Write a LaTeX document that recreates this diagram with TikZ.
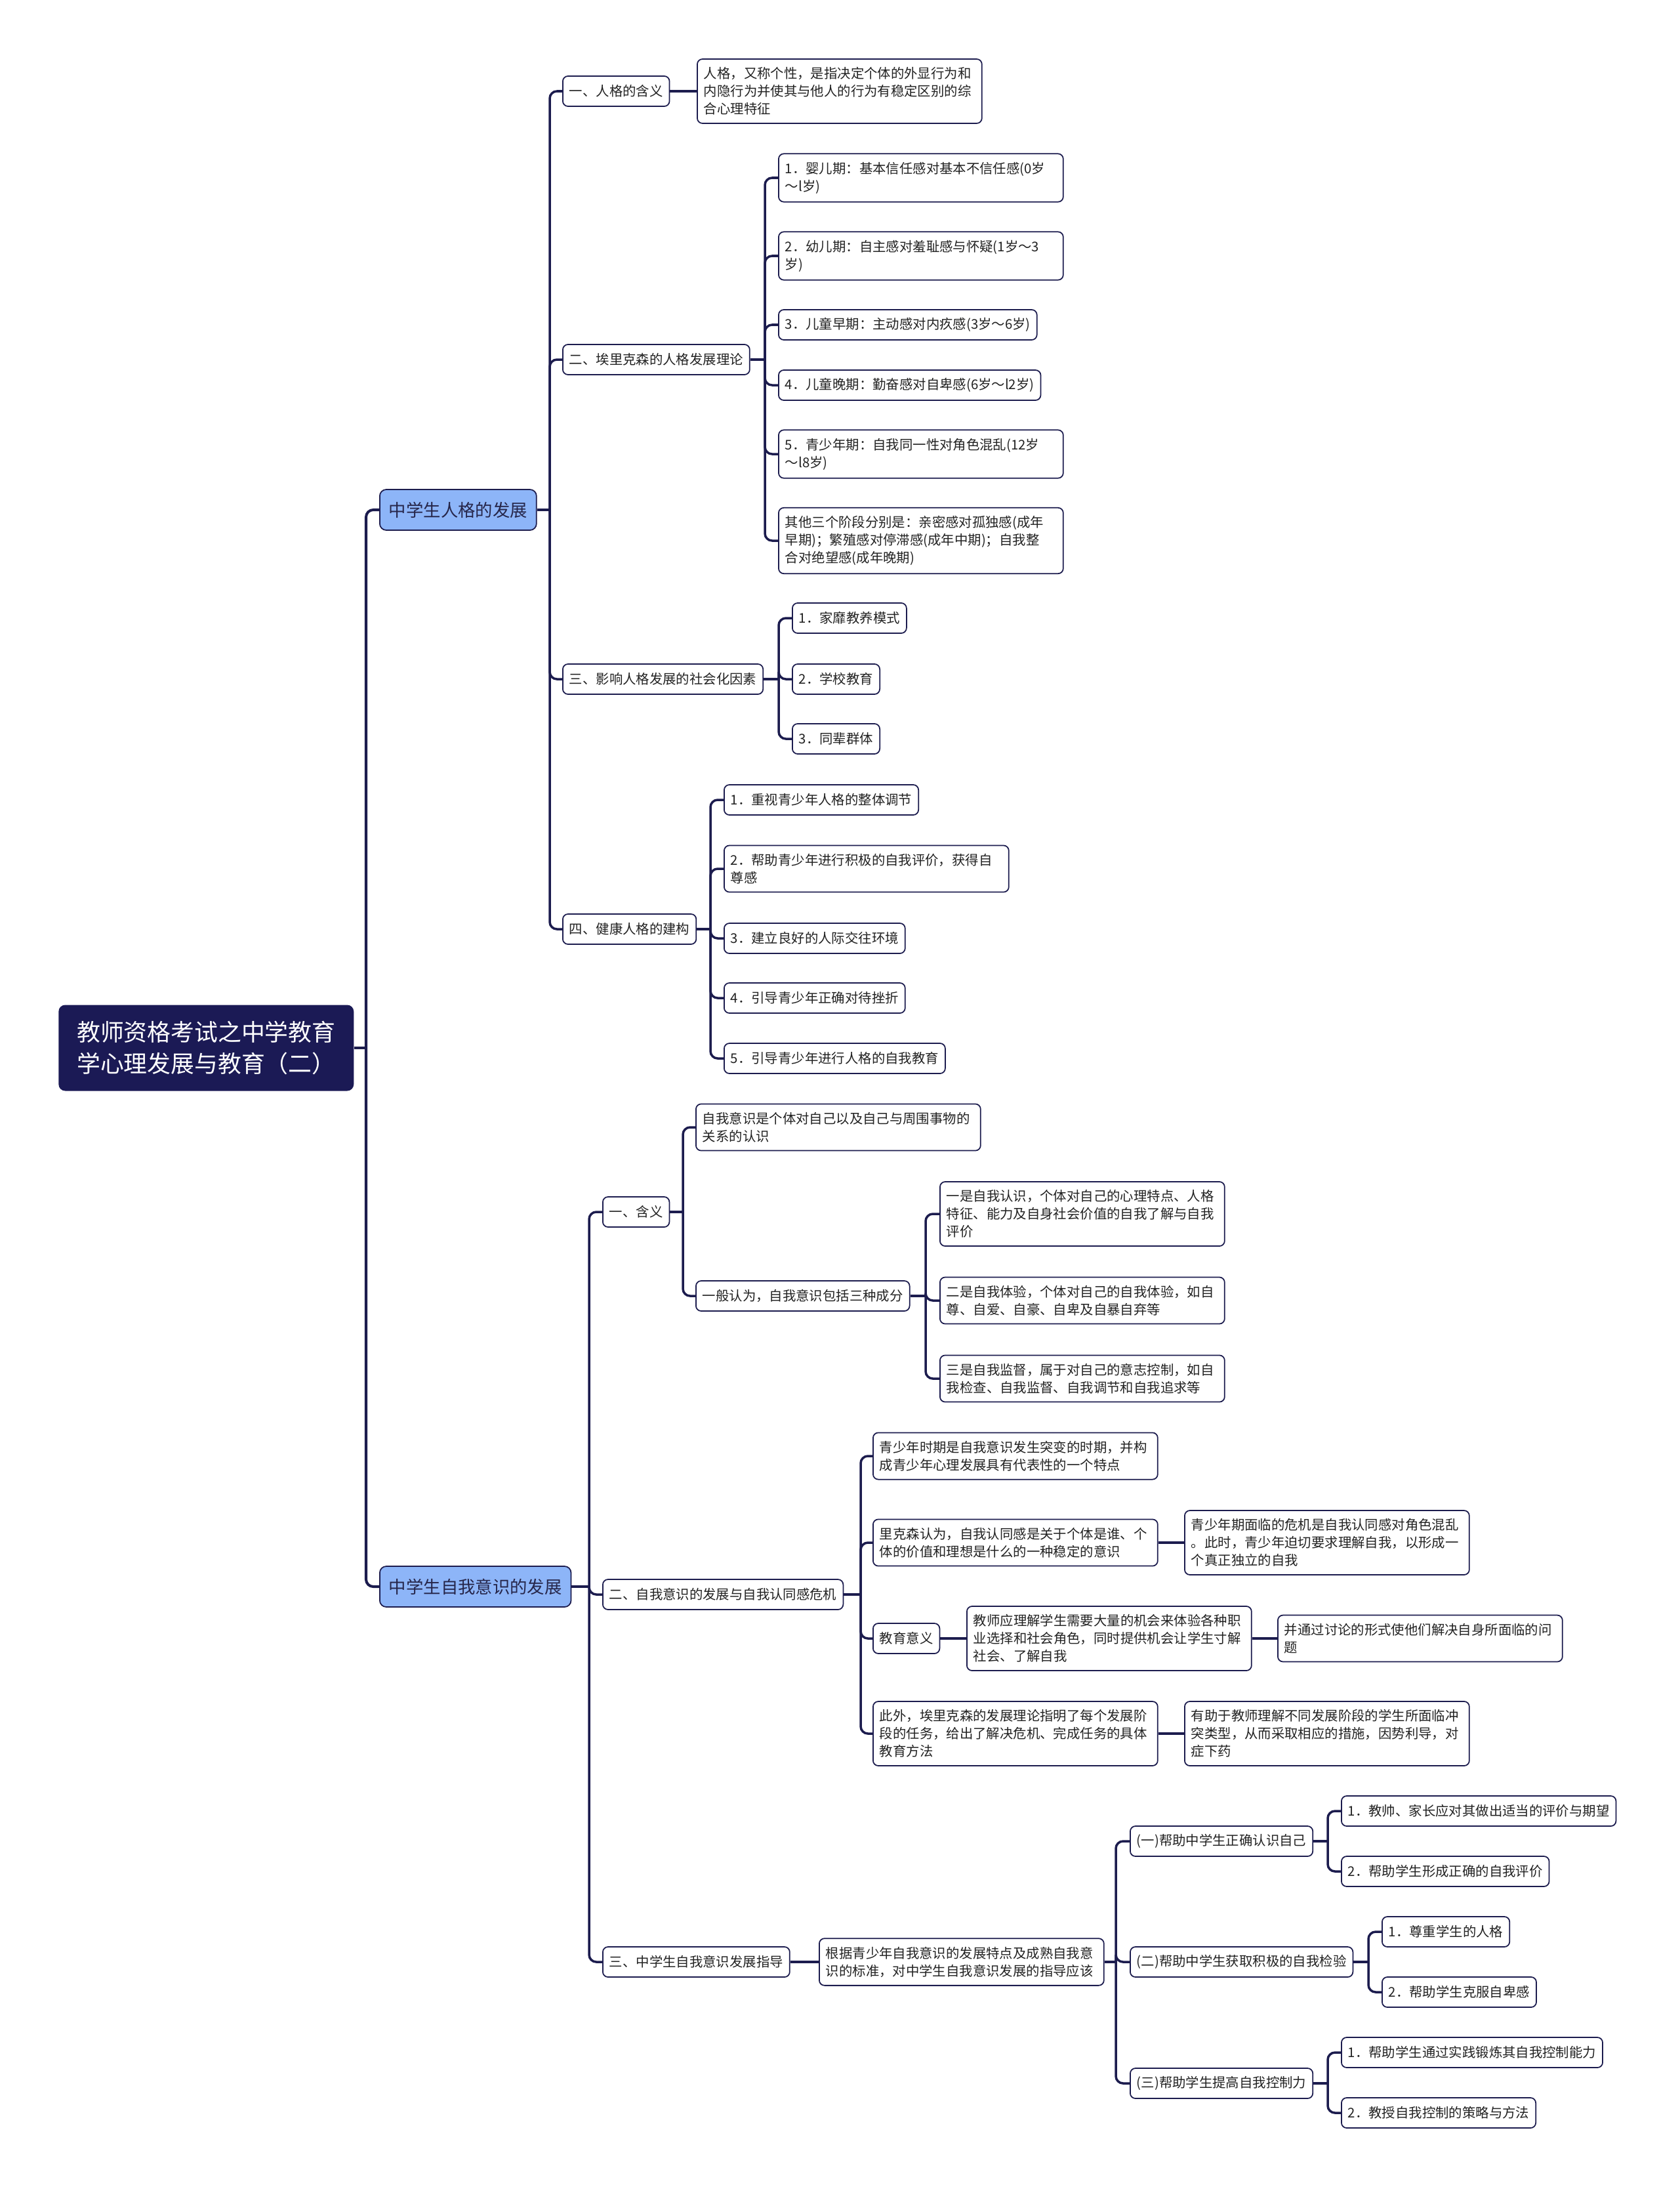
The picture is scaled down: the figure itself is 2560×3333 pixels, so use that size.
\documentclass[tikz,border=0pt]{standalone}
\usepackage{fontspec}
\setmainfont{Noto Sans CJK SC}
\usetikzlibrary{positioning}
\definecolor{NavyLine}{HTML}{1C1C4E}
\definecolor{RootNavy}{HTML}{1B1A55}
\definecolor{TopicBlue}{HTML}{8DB5F8}
\definecolor{TopicText}{HTML}{26264A}
\definecolor{LeafText}{HTML}{222222}
\newcommand\leaffont{\fontsize{11.6pt}{15.3pt}\selectfont}
\newcommand\topicfont{\fontsize{15pt}{18pt}\selectfont}
\newcommand\rootfont{\fontsize{20.4pt}{27.2pt}\selectfont}

\tikzset{
  link/.style={draw=NavyLine, line width=2pt, rounded corners=0.22cm},
  mainlink/.style={link, line width=2.3pt},
  leaf/.style={draw=NavyLine, line width=1pt, fill=white, text=LeafText,
    rounded corners=0.16cm, anchor=west, font=\leaffont,
    inner xsep=5.7pt, inner ysep=0pt, minimum height=0.92cm},
  wrapbox/.style={leaf, text width=8.28cm, align=left, inner ysep=7.2pt},
  topic/.style={draw=NavyLine, line width=1pt, fill=TopicBlue, text=TopicText,
    rounded corners=0.2cm, anchor=west, font=\topicfont,
    inner xsep=8pt, minimum height=1.24cm},
  rootbox/.style={fill=RootNavy, text=white, rounded corners=0.2cm,
    anchor=west, font=\rootfont, align=left,
    minimum width=9cm, minimum height=2.62cm}
}

\begin{document}
\begin{tikzpicture}[x=0.02cm, y=-0.02cm]
  \useasboundingbox (0,0) rectangle (2560,3333);

  % root and main topics
  \node[rootbox] (root) at (89,1597) {教师资格考试之中学教育\\学心理发展与教育（二）};
  \node[topic] (pers) at (578,777) {中学生人格的发展};
  \node[topic] (self) at (578,2418) {中学生自我意识的发展};

  % personality
  \node[leaf] (p1) at (857,139) {一、人格的含义};
  \node[leaf] (p2) at (857,548) {二、埃里克森的人格发展理论};
  \node[leaf] (p3) at (857,1035) {三、影响人格发展的社会化因素};
  \node[leaf] (p4) at (857,1416) {四、健康人格的建构};

  \node[wrapbox] (p1a) at (1062,139) {人格，又称个性，是指决定个体的外显行为和\\内隐行为并使其与他人的行为有稳定区别的综\\合心理特征};

  \node[wrapbox] (p2a) at (1186,271) {1．婴儿期：基本信任感对基本不信任感(0岁\\～l岁)};
  \node[wrapbox] (p2b) at (1186,390) {2．幼儿期：自主感对羞耻感与怀疑(1岁～3\\岁)};
  \node[leaf] (p2c) at (1186,495) {3．儿童早期：主动感对内疚感(3岁～6岁)};
  \node[leaf] (p2d) at (1186,587) {4．儿童晚期：勤奋感对自卑感(6岁～l2岁)};
  \node[wrapbox] (p2e) at (1186,692) {5．青少年期：自我同一性对角色混乱(12岁\\～l8岁)};
  \node[wrapbox] (p2f) at (1186,824) {其他三个阶段分别是：亲密感对孤独感(成年\\早期)；繁殖感对停滞感(成年中期)；自我整\\合对绝望感(成年晚期)};

  \node[leaf] (p3a) at (1207,942) {1．家靡教养模式};
  \node[leaf] (p3b) at (1207,1035) {2．学校教育};
  \node[leaf] (p3c) at (1207,1126) {3．同辈群体};

  \node[leaf] (p4a) at (1103,1219) {1．重视青少年人格的整体调节};
  \node[wrapbox] (p4b) at (1103,1324) {2．帮助青少年进行积极的自我评价，获得自\\尊感};
  \node[leaf] (p4c) at (1103,1430) {3．建立良好的人际交往环境};
  \node[leaf] (p4d) at (1103,1521) {4．引导青少年正确对待挫折};
  \node[leaf] (p4e) at (1103,1613) {5．引导青少年进行人格的自我教育};

  % self-awareness
  \node[leaf] (s1) at (918,1847) {一、含义};
  \node[leaf] (s2) at (918,2430) {二、自我意识的发展与自我认同感危机};
  \node[leaf] (s3) at (918,2990) {三、中学生自我意识发展指导};

  \node[wrapbox] (s1a) at (1060,1718) {自我意识是个体对自己以及自己与周围事物的\\关系的认识};
  \node[leaf] (s1b) at (1060,1975) {一般认为，自我意识包括三种成分};
  \node[wrapbox] (s1b1) at (1432,1850) {一是自我认识，个体对自己的心理特点、人格\\特征、能力及自身社会价值的自我了解与自我\\评价};
  \node[wrapbox] (s1b2) at (1432,1982) {二是自我体验，个体对自己的自我体验，如自\\尊、自爱、自豪、自卑及自暴自弃等};
  \node[wrapbox] (s1b3) at (1432,2101) {三是自我监督，属于对自己的意志控制，如自\\我检查、自我监督、自我调节和自我追求等};

  \node[wrapbox] (s2a) at (1330,2219) {青少年时期是自我意识发生突变的时期，并构\\成青少年心理发展具有代表性的一个特点};
  \node[wrapbox] (s2b) at (1330,2351) {里克森认为，自我认同感是关于个体是谁、个\\体的价值和理想是什么的一种稳定的意识};
  \node[leaf] (s2c) at (1330,2497) {教育意义};
  \node[wrapbox] (s2d) at (1330,2642) {此外，埃里克森的发展理论指明了每个发展阶\\段的任务，给出了解决危机、完成任务的具体\\教育方法};
  \node[wrapbox] (s2b1) at (1805,2351) {青少年期面临的危机是自我认同感对角色混乱\\。此时，青少年迫切要求理解自我，以形成一\\个真正独立的自我};
  \node[wrapbox] (s2c1) at (1473,2497) {教师应理解学生需要大量的机会来体验各种职\\业选择和社会角色，同时提供机会让学生寸解\\社会、了解自我};
  \node[wrapbox] (s2c2) at (1947,2497) {并通过讨论的形式使他们解决自身所面临的问\\题};
  \node[wrapbox] (s2d1) at (1805,2642) {有助于教师理解不同发展阶段的学生所面临冲\\突类型，从而采取相应的措施，因势利导，对\\症下药};

  \node[wrapbox] (s3a) at (1248,2990) {根据青少年自我意识的发展特点及成熟自我意\\识的标准，对中学生自我意识发展的指导应该};
  \node[leaf] (s3a1) at (1722,2806) {(一)帮助中学生正确认识自己};
  \node[leaf] (s3a2) at (1722,2990) {(二)帮助中学生获取积极的自我检验};
  \node[leaf] (s3a3) at (1722,3175) {(三)帮助学生提高自我控制力};
  \node[leaf] (s3a1a) at (2044,2760) {1．教帅、家长应对其做出适当的评价与期望};
  \node[leaf] (s3a1b) at (2044,2852) {2．帮助学生形成正确的自我评价};
  \node[leaf] (s3a2a) at (2106,2944) {1．尊重学生的人格};
  \node[leaf] (s3a2b) at (2106,3036) {2．帮助学生克服自卑感};
  \node[leaf] (s3a3a) at (2044,3128) {1．帮助学生通过实践锻炼其自我控制能力};
  \node[leaf] (s3a3b) at (2044,3220) {2．教授自我控制的策略与方法};

  % junctions
  \coordinate (jr) at (558,1597);
  \coordinate (jp) at (838,777);
  \coordinate (jp2) at (1166,548);
  \coordinate (jp3) at (1187,1035);
  \coordinate (jp4) at (1083,1416);
  \coordinate (js) at (898,2418);
  \coordinate (js1) at (1041,1847);
  \coordinate (js1b) at (1411,1975);
  \coordinate (js2) at (1312,2430);
  \coordinate (js3a) at (1701,2990);
  \coordinate (js3a1) at (2024,2806);
  \coordinate (js3a2) at (2086,2990);
  \coordinate (js3a3) at (2024,3175);

  % connectors
  \draw[mainlink] (root.east) -- (jr);
  \foreach \c in {pers,self} \draw[mainlink] (jr) |- (\c.west);

  \draw[link] (pers.east) -- (jp);
  \foreach \c in {p1,p2,p3,p4} \draw[link] (jp) |- (\c.west);
  \draw[link] (p1.east) -- (p1a.west);
  \draw[link] (p2.east) -- (jp2);
  \foreach \c in {p2a,p2b,p2c,p2d,p2e,p2f} \draw[link] (jp2) |- (\c.west);
  \draw[link] (p3.east) -- (jp3);
  \foreach \c in {p3a,p3b,p3c} \draw[link] (jp3) |- (\c.west);
  \draw[link] (p4.east) -- (jp4);
  \foreach \c in {p4a,p4b,p4c,p4d,p4e} \draw[link] (jp4) |- (\c.west);

  \draw[link] (self.east) -- (js);
  \foreach \c in {s1,s2,s3} \draw[link] (js) |- (\c.west);
  \draw[link] (s1.east) -- (js1);
  \foreach \c in {s1a,s1b} \draw[link] (js1) |- (\c.west);
  \draw[link] (s1b.east) -- (js1b);
  \foreach \c in {s1b1,s1b2,s1b3} \draw[link] (js1b) |- (\c.west);
  \draw[link] (s2.east) -- (js2);
  \foreach \c in {s2a,s2b,s2c,s2d} \draw[link] (js2) |- (\c.west);
  \draw[link] (s2b.east) -- (s2b1.west);
  \draw[link] (s2c.east) -- (s2c1.west);
  \draw[link] (s2c1.east) -- (s2c2.west);
  \draw[link] (s2d.east) -- (s2d1.west);
  \draw[link] (s3.east) -- (s3a.west);
  \draw[link] (s3a.east) -- (js3a);
  \foreach \c in {s3a1,s3a2,s3a3} \draw[link] (js3a) |- (\c.west);
  \draw[link] (s3a1.east) -- (js3a1);
  \foreach \c in {s3a1a,s3a1b} \draw[link] (js3a1) |- (\c.west);
  \draw[link] (s3a2.east) -- (js3a2);
  \foreach \c in {s3a2a,s3a2b} \draw[link] (js3a2) |- (\c.west);
  \draw[link] (s3a3.east) -- (js3a3);
  \foreach \c in {s3a3a,s3a3b} \draw[link] (js3a3) |- (\c.west);
\end{tikzpicture}
\end{document}
